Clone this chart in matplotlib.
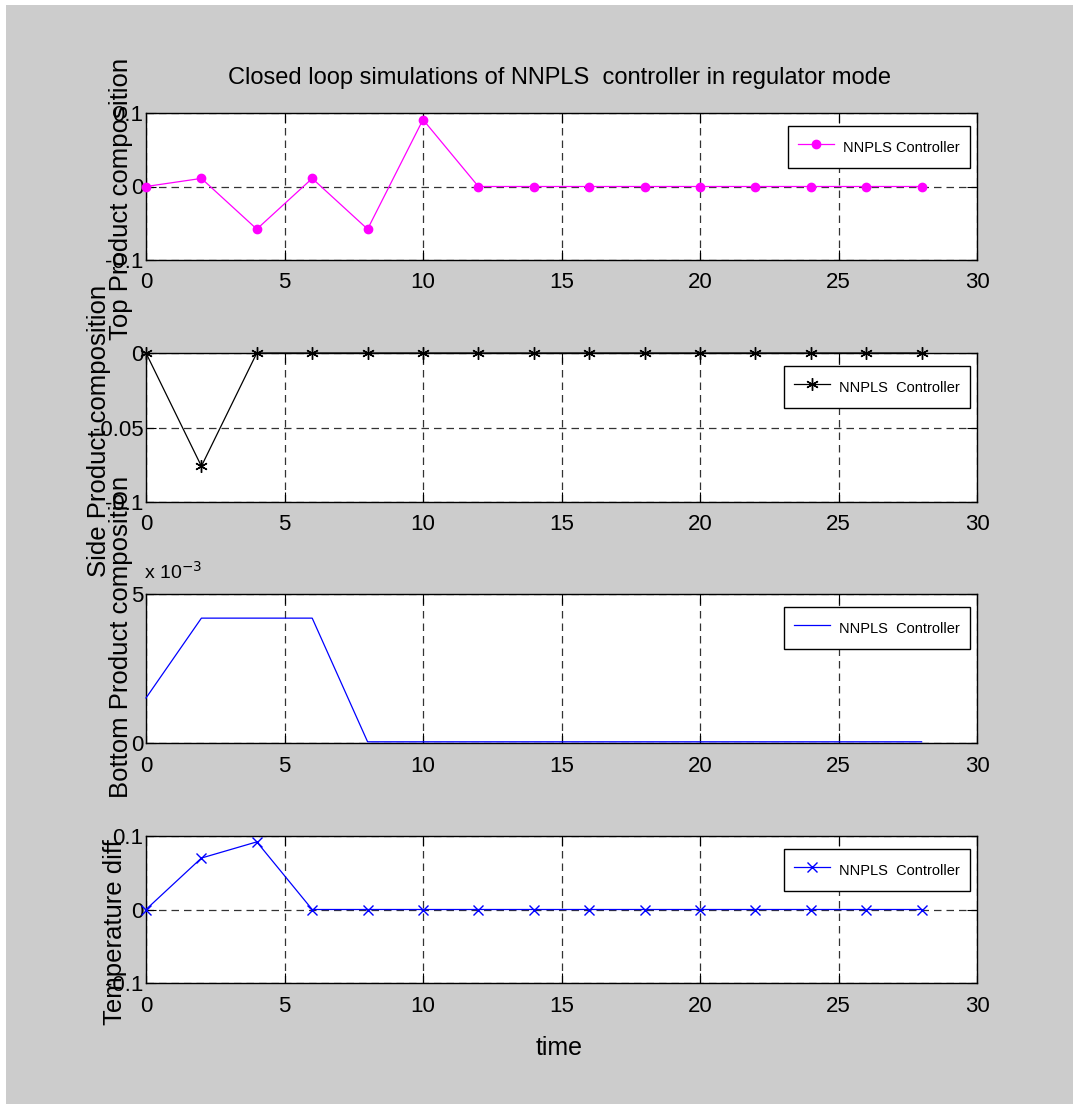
import matplotlib
matplotlib.use("Agg")
import matplotlib.pyplot as plt
from matplotlib.patches import Rectangle

# ---- data ----
time = [0, 2, 4, 6, 8, 10, 12, 14, 16, 18, 20, 22, 24, 26, 28]
top_comp = [0, 0.011, -0.058, 0.011, -0.058, 0.091, 0, 0, 0, 0, 0, 0, 0, 0, 0]
side_comp = [0, -0.076, 0, 0, 0, 0, 0, 0, 0, 0, 0, 0, 0, 0, 0]
bottom_comp = [0.00151, 0.00419, 0.00419, 0.00419, 0.00004, 0.00004, 0.00004, 0.00004,
               0.00004, 0.00004, 0.00004, 0.00004, 0.00004, 0.00004, 0.00004]
temp_diff = [0, 0.070, 0.092, 0, 0, 0, 0, 0, 0, 0, 0, 0, 0, 0, 0]

xticks = [0, 5, 10, 15, 20, 25, 30]
ylabels = ["Top Product composition", "Side Product composition",
           "Bottom Product composition", "Temperature diff"]
legend_labels = ["NNPLS Controller", "NNPLS  Controller", "NNPLS  Controller", "NNPLS  Controller"]
title = "Closed loop simulations of NNPLS  controller in regulator mode"

FONT = ["Liberation Sans", "DejaVu Sans"]

W, H = 1073, 1104
fig = plt.figure(figsize=(W / 100, H / 100), dpi=100, facecolor="white")
fig.patches.append(Rectangle((6 / W, 0), 1, 1 - 5 / H, transform=fig.transFigure,
                             facecolor="#cccccc", edgecolor="none", zorder=-10))

def add_ax(top, bottom):
    return fig.add_axes([146 / W, 1 - bottom / H, (977 - 146) / W, (bottom - top) / H])

axes = [add_ax(113, 260), add_ax(353, 502), add_ax(594, 743), add_ax(836, 983)]

specs = [
    dict(y=top_comp, color="#ff00ff", marker="o", ms=6, mfc="#ff00ff", mec="#ff00ff",
         ylim=(-0.1, 0.1), yt=[-0.1, 0, 0.1], ytl=["-0.1", "0", "0.1"]),
    dict(y=side_comp, color="black", marker=(6, 2, 0), ms=9, mfc="black", mec="black",
         ylim=(-0.1, 0), yt=[-0.1, -0.05, 0], ytl=["-0.1", "-0.05", "0"]),
    dict(y=bottom_comp, color="#0000ff", marker=None, ms=0, mfc="none", mec="none",
         ylim=(0, 0.005), yt=[0, 0.005], ytl=["0", "5"]),
    dict(y=temp_diff, color="#0000ff", marker="x", ms=7, mfc="#0000ff", mec="#0000ff",
         ylim=(-0.1, 0.1), yt=[-0.1, 0, 0.1], ytl=["-0.1", "0", "0.1"]),
]

for i, (ax, s) in enumerate(zip(axes, specs)):
    ax.set_facecolor("white")
    ax.plot(time, s["y"], color=s["color"], lw=0.9, marker=s["marker"], ms=s["ms"],
            mfc=s["mfc"], mec=s["mec"], mew=1.0, label=legend_labels[i], clip_on=False, zorder=3)
    ax.set_xlim(0, 30)
    ax.set_ylim(*s["ylim"])
    ax.set_xticks(xticks)
    ax.set_xticklabels([str(v) for v in xticks], family=FONT, fontsize=16)
    ax.set_yticks(s["yt"])
    ax.set_yticklabels(s["ytl"], family=FONT, fontsize=16)
    ax.tick_params(direction="in", length=7, width=0.8, top=True, right=True, colors="black")
    ax.tick_params(axis="x", pad=9)
    ax.tick_params(axis="y", pad=2)
    ax.grid(True, color="#333333", linestyle=(0, (6, 4)), linewidth=0.9)
    for sp in ax.spines.values():
        sp.set_linewidth(1.0)
        sp.set_color("black")
    leg = ax.legend(loc="upper right", prop={"family": FONT, "size": 10.5},
                    fancybox=False, shadow=False, framealpha=1, edgecolor="black",
                    handlelength=2.5, handletextpad=0.6, handleheight=1.9, borderpad=0.7,
                    borderaxespad=0, bbox_to_anchor=(0.9916, 0.912))
    leg.get_frame().set_linewidth(1.0)

# y labels
label_pos = [(121, 199), (99, 431), (121, 637), (115, 932)]
for txt, (x, y) in zip(ylabels, label_pos):
    fig.text(x / W, 1 - y / H, txt, rotation=90, ha="center", va="center",
             family=FONT, fontsize=18.5)

# exponent label for 3rd axes
fig.text(144 / W, 1 - 572 / H, r"x 10$^{-3}$", ha="left", va="center", family=FONT, fontsize=14)

fig.text(560 / W, 1 - 78 / H, title, ha="center", va="center", family=FONT, fontsize=17)
fig.text(559 / W, 1 - 1048 / H, "time", ha="center", va="center", family=FONT, fontsize=18)

fig.savefig("out.png", dpi=100, facecolor=fig.get_facecolor())
